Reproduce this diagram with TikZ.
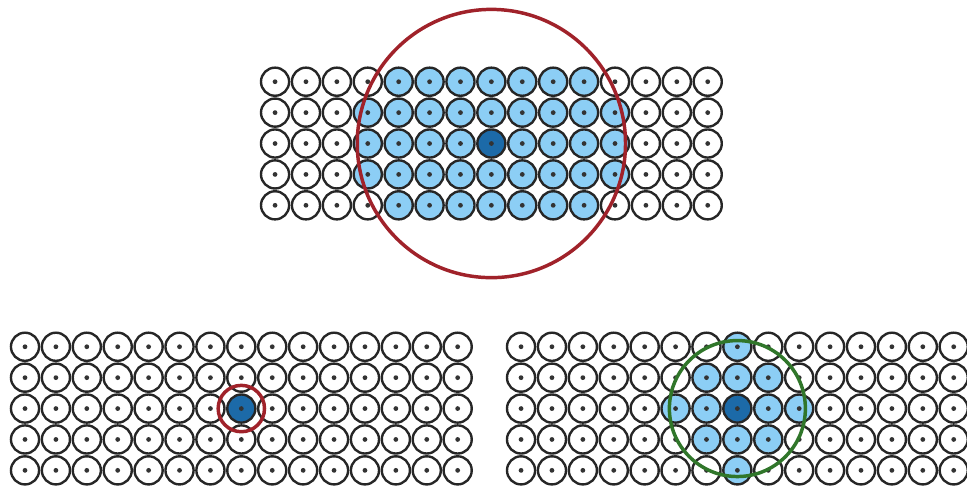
\documentclass[tikz,border=0pt]{standalone}
\definecolor{cellblue}{RGB}{140,206,245}
\definecolor{coreblue}{RGB}{28,106,168}
\definecolor{ringred}{RGB}{160,34,42}
\definecolor{ringgreen}{RGB}{48,118,42}
\begin{document}
\begin{tikzpicture}[x=0.5cm, y=0.5cm,
    cell/.style={circle, draw=black!85, line width=1.1pt, minimum size=0.455cm, inner sep=0pt,
        path picture={\fill[black!80] (path picture bounding box.center) circle (1.1pt);}},
    ring/.style={line width=1.6pt}]
    \useasboundingbox (0,0) rectangle (31.29,-15.89);

    % three grids: name / origin / search radius
    \foreach \g/\ox/\oy/\r in {t/8.90/-2.644/4.34, l/0.809/-11.22/0.75, r/16.86/-11.22/2.2} {
        \foreach \i in {0,...,14} {
            \foreach \j in {0,...,4} {
                \pgfmathtruncatemacro\kind{(\i==7 && \j==2) ? 2 : ((veclen(\i-7,\j-2) <= \r) ? 1 : 0)}
                \ifcase\kind \def\cellfill{white}\or \def\cellfill{cellblue}\or \def\cellfill{coreblue}\fi
                \node[cell, fill=\cellfill] (\g-\i-\j) at (\ox+\i,\oy-\j) {};
            }
        }
    }

    \draw[ring, ringred] (t-7-2.center) circle (4.34);
    \draw[ring, ringred] (l-7-2.center) circle (0.75);
    \draw[ring, ringgreen] (r-7-2.center) circle (2.2);
\end{tikzpicture}
\end{document}
